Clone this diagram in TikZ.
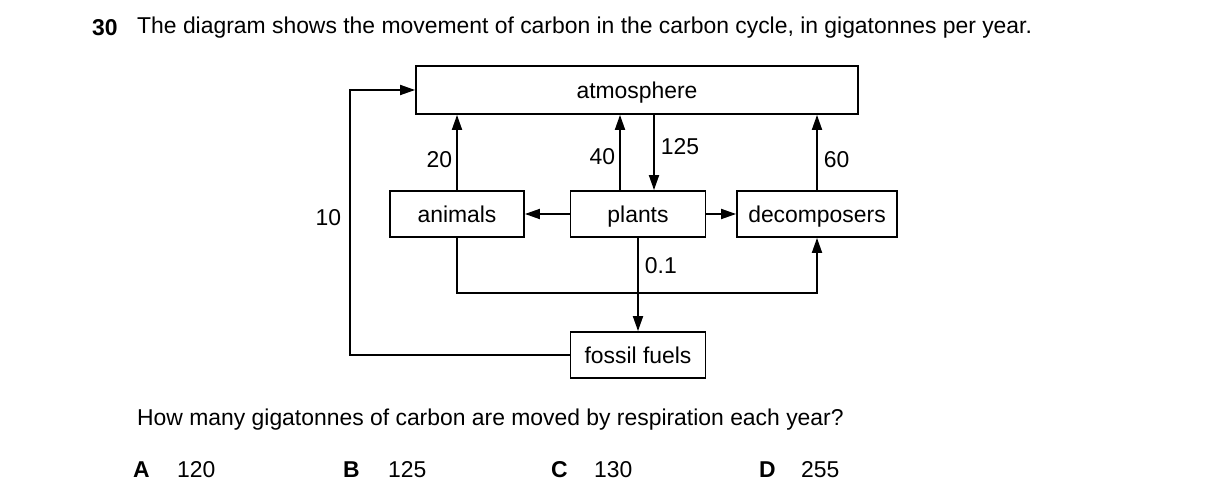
\documentclass[tikz,border=0pt]{standalone}
\usepackage{fontspec}
\setmainfont{Liberation Sans}
\usetikzlibrary{arrows.meta}
\usetikzlibrary{positioning}
\tikzset{box/.style={draw, line width=1.8pt, minimum height=46pt, inner sep=0pt, text height=19pt, text depth=1pt}}
\tikzset{flow/.style={line width=1.8pt, -{Triangle[length=15pt,width=10pt]}}}
\tikzset{txt/.style={anchor=west, inner sep=0pt}}

\begin{document}
\begin{tikzpicture}[x=1pt, y=-1pt, font=\fontsize{22.9}{27}\selectfont]
\useasboundingbox (0,0) rectangle (1216,502);

% question text
\node[txt] (num) at (92,28) {\textbf{30}};
\node[txt] (title) at (137,28) {The diagram shows the movement of carbon in the carbon cycle, in gigatonnes per year.};

% boxes
\node[box, minimum width=442pt, minimum height=48pt] (atm) at (637,90) {atmosphere};
\node[box, minimum width=134pt] (ani) at (457,214) {animals};
\node[box, minimum width=135pt] (pla) at (638,214) {plants};
\node[box, minimum width=160pt] (dec) at (817,214) {decomposers};
\node[box, minimum width=135pt] (fos) at (638,355) {fossil fuels};

% flows
\draw[flow] (ani.north) -- node[left, pos=0.4, inner sep=4pt] {20} (ani.north |- atm.south);
\draw[flow] ([xshift=-18pt]pla.north) -- node[left, pos=0.45, inner sep=4pt] {40} ([xshift=-18pt]pla.north |- atm.south);
\draw[flow] ([xshift=16pt]pla.north |- atm.south) -- node[right, pos=0.42, inner sep=6pt] {125} ([xshift=16pt]pla.north);
\draw[flow] (dec.north) -- node[right, pos=0.4, inner sep=6pt] {60} (dec.north |- atm.south);
\draw[flow] (pla) -- (ani);
\draw[flow] (pla) -- (dec);
\draw[flow] (pla) -- node[right, pos=0.3, inner sep=6pt] {0.1} (fos);
\draw[flow] (ani.south) -- ++(0,55) -| (dec.south);
\coordinate (loop) at (350,355);
\draw[flow] (fos.west) -- (loop) |- node[left, pos=0.26, inner sep=8pt] {10} (atm.west);

% question and answers
\node[txt] (ask) at (137,420) {How many gigatonnes of carbon are moved by respiration each year?};
\node[txt] (optA) at (133,470) {\textbf{A}};
\node[txt] (valA) at (177,470) {120};
\node[txt] (optB) at (343,470) {\textbf{B}};
\node[txt] (valB) at (388,470) {125};
\node[txt] (optC) at (551,470) {\textbf{C}};
\node[txt] (valC) at (594,470) {130};
\node[txt] (optD) at (759,470) {\textbf{D}};
\node[txt] (valD) at (801,470) {255};
\end{tikzpicture}
\end{document}
